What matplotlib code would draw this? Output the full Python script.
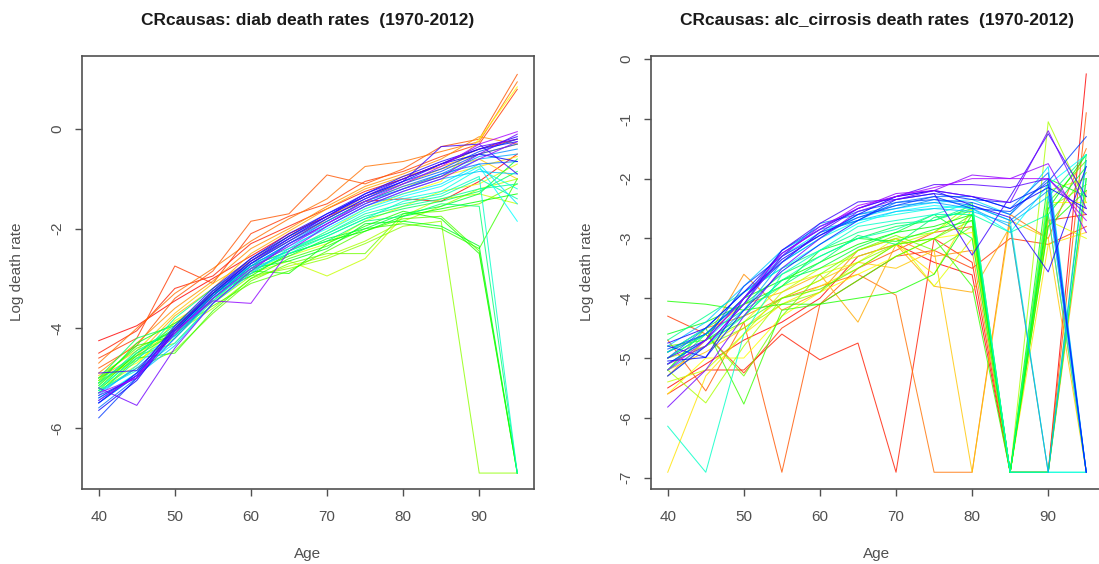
import colorsys

import matplotlib
matplotlib.use("Agg")
import matplotlib.pyplot as plt

plt.rcParams['font.family'] = ['Liberation Sans', 'DejaVu Sans']

ages = [40, 45, 50, 55, 60, 65, 70, 75, 80, 85, 90, 95]
years = list(range(1970, 2013))

# log death rates, one row per year (1970 .. 2012), columns follow `ages`
diab = [
    [-4.25, -3.95, -3.45, -3.00, -2.55, -2.10, -1.75, -1.45, -1.40, -1.45, -1.05, -0.50],
    [-4.50, -4.05, -3.20, -2.95, -2.30, -1.95, -1.60, -1.25, -1.00, -0.70, -0.40, -0.20],
    [-4.60, -4.20, -2.75, -3.10, -2.10, -1.75, -1.50, -1.05, -0.85, -0.55, -0.30, 0.80],
    [-4.80, -4.35, -3.40, -2.85, -1.85, -1.70, -0.92, -1.10, -0.80, -0.35, -0.20, 1.10],
    [-4.70, -4.00, -3.30, -2.80, -2.25, -1.80, -1.40, -0.75, -0.65, -0.45, -0.25, 0.95],
    [-4.90, -4.30, -3.60, -3.05, -2.40, -2.00, -1.55, -1.15, -0.90, -0.60, -0.15, -0.30],
    [-5.00, -4.55, -3.75, -3.20, -2.50, -2.05, -1.60, -1.20, -0.95, -0.75, -0.50, -0.30],
    [-4.95, -4.45, -3.70, -3.10, -2.65, -2.25, -1.80, -1.35, -1.10, -0.80, -0.60, -1.00],
    [-5.10, -4.60, -3.90, -3.30, -2.60, -2.15, -1.85, -1.45, -1.15, -0.95, -0.75, -0.55],
    [-5.05, -4.70, -4.00, -3.35, -2.75, -2.45, -2.05, -1.60, -1.30, -1.05, -0.20, 0.85],
    [-5.20, -4.75, -3.85, -3.40, -2.85, -2.55, -2.30, -1.85, -1.55, -1.25, -1.10, -0.70],
    [-5.00, -4.65, -4.20, -3.45, -2.90, -2.65, -2.95, -2.60, -1.75, -1.40, -1.30, -1.50],
    [-5.15, -4.50, -4.10, -3.60, -3.00, -2.75, -2.55, -2.25, -1.85, -1.55, -1.20, -1.00],
    [-5.10, -4.55, -4.30, -3.50, -2.95, -2.80, -2.60, -2.30, -1.95, -1.85, -6.91, -6.91],
    [-5.25, -4.80, -4.45, -3.70, -3.05, -2.70, -2.50, -2.50, -1.70, -1.65, -1.50, -1.10],
    [-5.00, -4.40, -4.05, -3.55, -3.10, -2.85, -2.45, -2.05, -1.80, -1.75, -2.45, -6.91],
    [-5.30, -4.60, -4.50, -3.65, -3.00, -2.60, -2.35, -2.00, -1.90, -2.00, -2.40, -1.00],
    [-5.05, -4.35, -4.15, -3.40, -2.85, -2.90, -2.30, -1.95, -1.65, -1.80, -2.50, -6.91],
    [-5.20, -4.50, -4.00, -3.30, -2.95, -2.50, -2.25, -2.05, -1.75, -1.60, -1.45, -1.30],
    [-5.10, -4.30, -3.90, -3.45, -2.80, -2.65, -2.40, -1.90, -1.85, -1.95, -2.35, -6.91],
    [-5.25, -4.55, -4.10, -3.25, -2.90, -2.55, -2.20, -2.00, -1.70, -1.55, -1.30, -0.60],
    [-5.00, -4.20, -3.95, -3.35, -2.75, -2.45, -2.15, -1.80, -1.60, -1.45, -1.25, -0.85],
    [-5.15, -4.45, -4.05, -3.30, -2.80, -2.50, -2.25, -1.85, -1.75, -1.50, -1.55, -6.91],
    [-5.30, -4.65, -3.80, -3.20, -2.70, -2.40, -2.10, -1.75, -1.55, -1.40, -1.20, -1.10],
    [-5.10, -4.50, -3.95, -3.25, -2.75, -2.45, -2.10, -1.70, -1.50, -1.35, -1.00, -1.40],
    [-5.20, -4.60, -4.15, -3.40, -2.85, -2.50, -2.15, -1.80, -1.45, -1.30, -0.95, -6.91],
    [-5.25, -4.85, -4.30, -3.50, -2.85, -2.45, -2.05, -1.65, -1.40, -1.25, -0.80, -1.20],
    [-5.40, -4.90, -4.20, -3.45, -2.80, -2.35, -2.00, -1.60, -1.35, -1.15, -0.75, -1.85],
    [-5.35, -4.75, -4.05, -3.35, -2.75, -2.30, -1.95, -1.55, -1.30, -1.10, -0.70, -1.50],
    [-5.50, -4.95, -4.35, -3.50, -2.90, -2.40, -1.95, -1.55, -1.25, -1.00, -0.85, -0.90],
    [-5.30, -4.80, -4.15, -3.40, -2.80, -2.30, -1.90, -1.50, -1.20, -0.95, -0.60, -0.50],
    [-5.45, -4.90, -4.10, -3.35, -2.70, -2.25, -1.85, -1.45, -1.20, -0.90, -0.55, -0.40],
    [-5.60, -5.00, -4.20, -3.40, -2.75, -2.30, -1.85, -1.45, -1.15, -0.90, -0.70, -0.65],
    [-5.50, -4.95, -4.05, -3.30, -2.65, -2.20, -1.80, -1.40, -1.10, -0.85, -0.50, -0.30],
    [-5.80, -5.00, -4.10, -3.35, -2.70, -2.20, -1.75, -1.35, -1.05, -0.80, -0.45, -0.20],
    [-5.40, -4.95, -4.00, -3.25, -2.60, -2.15, -1.70, -1.35, -1.05, -0.70, -0.40, -0.25],
    [-5.65, -5.05, -4.05, -3.30, -2.65, -2.15, -1.75, -1.30, -1.00, -0.70, -0.50, -0.65],
    [-5.50, -4.90, -3.95, -3.20, -2.60, -2.10, -1.70, -1.30, -0.95, -0.65, -0.40, -0.15],
    [-4.90, -4.85, -4.00, -3.30, -2.70, -2.25, -1.80, -1.40, -1.05, -0.35, -0.30, -0.90],
    [-5.35, -5.00, -4.00, -3.25, -2.65, -2.20, -1.75, -1.35, -1.00, -0.70, -0.35, -0.20],
    [-5.20, -5.55, -4.40, -3.50, -2.85, -2.30, -1.90, -1.50, -1.20, -0.95, -0.50, -0.10],
    [-5.45, -4.95, -4.05, -3.45, -3.50, -2.45, -1.95, -1.55, -1.25, -1.00, -0.60, -0.25],
    [-5.30, -5.00, -4.10, -3.40, -2.80, -2.35, -1.90, -1.45, -1.10, -0.75, -0.30, -0.05],
]

alc_cirrosis = [
    [-5.50, -5.10, -4.70, -4.40, -4.00, -3.30, -3.10, -3.40, -3.61, -6.91, -6.91, -0.25],
    [-5.60, -5.20, -5.20, -4.60, -5.03, -4.75, -6.91, -3.00, -3.40, -6.91, -2.70, -2.60],
    [-4.30, -4.60, -5.25, -4.50, -4.10, -3.70, -3.30, -3.20, -3.50, -3.00, -3.10, -2.80],
    [-4.70, -5.55, -4.40, -6.91, -4.10, -3.50, -3.20, -2.90, -2.80, -6.91, -6.91, -0.90],
    [-4.90, -4.50, -4.30, -4.00, -3.80, -3.60, -3.95, -6.91, -6.91, -2.60, -3.00, -1.50],
    [-5.30, -4.70, -3.60, -4.20, -3.90, -3.20, -3.00, -3.30, -3.20, -6.91, -2.60, -6.91],
    [-5.00, -4.60, -4.10, -3.90, -3.60, -4.40, -3.10, -3.80, -3.90, -2.80, -6.91, -2.20],
    [-5.20, -4.90, -4.50, -4.00, -3.70, -3.40, -3.50, -3.20, -6.91, -2.70, -3.00, -6.91],
    [-6.91, -5.30, -4.60, -4.10, -3.80, -3.50, -3.10, -3.60, -2.50, -6.91, -3.10, -2.90],
    [-5.60, -5.00, -5.00, -4.30, -3.90, -3.60, -3.30, -3.00, -2.90, -6.91, -2.40, -2.40],
    [-5.10, -4.80, -4.40, -3.80, -3.60, -3.40, -3.00, -3.80, -3.00, -6.91, -2.70, -3.00],
    [-5.40, -5.20, -4.60, -3.90, -3.50, -3.30, -3.10, -2.90, -2.50, -6.91, -2.20, -2.00],
    [-5.20, -5.75, -4.80, -4.00, -3.70, -3.20, -3.00, -2.90, -2.40, -6.91, -1.05, -2.40],
    [-5.00, -4.80, -4.50, -4.10, -3.90, -3.40, -3.10, -3.00, -2.70, -6.91, -2.50, -2.10],
    [-4.90, -4.60, -5.30, -4.30, -3.60, -3.20, -2.95, -3.20, -2.80, -6.91, -2.80, -1.90],
    [-4.80, -4.70, -4.40, -4.00, -3.85, -3.50, -3.10, -3.00, -2.60, -6.91, -2.40, -1.70],
    [-5.20, -4.50, -5.77, -4.20, -4.10, -3.70, -3.30, -3.00, -3.80, -6.91, -6.91, -2.00],
    [-4.05, -4.10, -4.20, -4.10, -4.10, -4.00, -3.90, -3.60, -2.60, -6.91, -2.80, -2.20],
    [-5.00, -4.60, -4.00, -3.70, -3.40, -3.10, -2.90, -2.80, -2.60, -6.91, -2.50, -1.60],
    [-4.60, -4.40, -4.10, -3.80, -3.20, -3.00, -3.05, -2.85, -2.70, -6.91, -2.00, -2.30],
    [-5.10, -4.70, -4.30, -3.70, -3.50, -3.15, -2.90, -2.60, -3.00, -6.91, -2.60, -1.80],
    [-4.90, -4.50, -4.10, -3.60, -3.30, -3.00, -2.80, -2.70, -2.50, -6.91, -6.91, -1.60],
    [-5.20, -4.60, -4.20, -3.80, -3.40, -2.95, -3.10, -2.65, -2.55, -6.91, -6.91, -2.00],
    [-4.70, -4.30, -3.90, -3.50, -3.20, -2.90, -2.75, -2.70, -2.45, -6.91, -2.30, -1.60],
    [-5.30, -4.80, -4.30, -3.70, -3.30, -3.00, -2.85, -2.60, -2.60, -2.90, -2.60, -6.91],
    [-6.14, -6.91, -4.60, -3.60, -3.20, -2.80, -2.70, -2.60, -2.40, -6.91, -6.91, -6.91],
    [-5.00, -4.60, -4.00, -3.40, -3.00, -2.70, -2.60, -2.50, -2.45, -2.70, -6.91, -6.91],
    [-4.90, -4.50, -3.90, -3.50, -3.10, -2.75, -2.55, -2.45, -2.50, -2.90, -2.10, -1.60],
    [-5.10, -4.70, -4.10, -3.30, -2.90, -2.65, -2.50, -2.40, -2.35, -2.60, -1.80, -6.91],
    [-4.80, -4.40, -3.80, -3.20, -2.85, -2.70, -2.55, -2.50, -2.55, -2.75, -2.30, -6.91],
    [-5.20, -4.80, -4.20, -3.40, -3.00, -2.60, -2.45, -2.40, -2.50, -2.80, -6.91, -1.70],
    [-4.90, -4.60, -4.00, -3.30, -2.75, -2.60, -2.50, -2.35, -2.45, -2.70, -2.20, -6.91],
    [-5.00, -4.50, -3.90, -3.40, -2.90, -2.70, -2.40, -2.30, -2.30, -2.50, -1.90, -6.91],
    [-4.85, -4.60, -4.00, -3.20, -2.80, -2.55, -2.40, -2.35, -2.40, -2.60, -2.00, -6.91],
    [-5.10, -4.70, -3.80, -3.30, -2.95, -2.65, -2.45, -2.30, -2.50, -2.55, -2.05, -1.30],
    [-4.80, -4.99, -4.20, -3.55, -3.10, -2.70, -2.35, -2.25, -2.35, -2.40, -2.10, -6.91],
    [-5.05, -4.99, -4.00, -3.35, -2.95, -2.60, -2.30, -2.20, -2.30, -2.50, -2.15, -2.50],
    [-4.75, -4.50, -3.90, -3.25, -2.85, -2.50, -2.30, -2.20, -2.45, -2.65, -3.56, -1.80],
    [-5.30, -4.80, -4.10, -3.20, -2.75, -2.39, -2.35, -2.25, -3.28, -2.30, -1.25, -2.30],
    [-5.00, -4.70, -4.00, -3.40, -2.90, -2.50, -2.30, -2.10, -2.10, -2.15, -2.00, -2.60],
    [-5.82, -5.20, -4.30, -3.50, -3.00, -2.55, -2.35, -2.20, -2.30, -2.40, -1.20, -2.50],
    [-5.10, -4.80, -4.10, -3.30, -2.80, -2.50, -2.25, -2.20, -1.94, -2.00, -1.75, -2.90],
    [-5.20, -4.70, -4.00, -3.25, -2.85, -2.45, -2.30, -2.15, -2.00, -2.00, -2.00, -2.70],
]

W, H = 1099, 564
GREY = '#505050'


def px(x, y):
    return x / W, 1 - y / H


def rainbow(n):
    # same hues as R's rainbow(n * 1.25)[1:n]
    m = int(round(n * 1.25))
    return [colorsys.hsv_to_rgb(i / m, 1, 1) for i in range(n)]


def draw_panel(left, rows, title, ylim, yticks):
    ax = fig.add_axes([left / W, (H - 489) / H, 452 / W, (489 - 56) / H])
    for row, col in zip(rows, rainbow(len(years))):
        ax.plot(ages, row, color=col, lw=0.75, alpha=0.8)
    ax.set_xlim(37.8, 97.2)
    ax.set_ylim(*ylim)
    ax.set_xticks([40, 50, 60, 70, 80, 90])
    ax.set_yticks(yticks)
    ax.set_yticklabels([str(t) for t in yticks], rotation=90, va='center')
    ax.tick_params(length=5, width=1, color=GREY, labelcolor=GREY, labelsize=11)
    ax.tick_params(axis='x', pad=10)
    ax.tick_params(axis='y', pad=8)
    for s in ax.spines.values():
        s.set_color(GREY)
        s.set_linewidth(1.2)

    cx = left + 226
    fig.text(*px(cx, 21), title, ha='center', va='center', fontsize=12.5,
             fontweight='bold', color='#1a1a1a')
    fig.text(*px(cx, 554), 'Age', ha='center', va='center', fontsize=11, color=GREY)
    fig.text(*px(left - 64.5, 272), 'Log death rate', ha='center', va='center',
             rotation=90, fontsize=11, color=GREY)
    return ax


fig = plt.figure(figsize=(W / 100, H / 100), dpi=100)
draw_panel(82, diab, 'CRcausas: diab death rates  (1970-2012)',
           (-7.23, 1.47), [0, -2, -4, -6])
draw_panel(651, alc_cirrosis, 'CRcausas: alc_cirrosis death rates  (1970-2012)',
           (-7.19, 0.05), [0, -1, -2, -3, -4, -5, -6, -7])

fig.savefig('out.png', dpi=100)
